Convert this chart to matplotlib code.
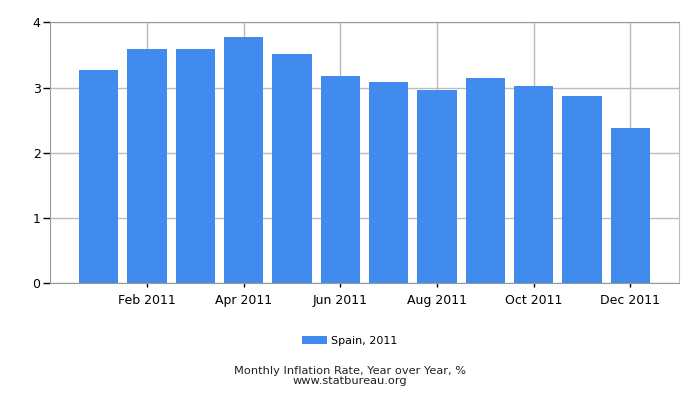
import matplotlib
matplotlib.use('Agg')
import numpy as np
from matplotlib import pyplot as plt
from matplotlib.patches import Patch

months = ['Jan 2011', 'Feb 2011', 'Mar 2011', 'Apr 2011', 'May 2011', 'Jun 2011',
          'Jul 2011', 'Aug 2011', 'Sep 2011', 'Oct 2011', 'Nov 2011', 'Dec 2011']
inflation = [3.27, 3.59, 3.59, 3.77, 3.51, 3.18, 3.09, 2.96, 3.15, 3.02, 2.87, 2.38]
series_name = 'Spain, 2011'
title = 'Monthly Inflation Rate, Year over Year, %'
source = 'www.statbureau.org'

bar_color = '#418bee'
grid_color = '#bcbcbc'

fig = plt.figure(figsize=(7, 4), dpi=100)
ax = fig.add_axes([0.0719, 0.2918, 0.8977, 0.6524])

x = np.arange(len(months))
ax.bar(x, inflation, width=0.81, color=bar_color, zorder=3)

ax.set_xlim(-1, 12)
ax.set_ylim(0, 4)
ax.set_yticks([0, 1, 2, 3, 4])
ax.set_xticks(x[1::2])
ax.set_xticklabels(months[1::2])
ax.tick_params(axis='both', labelsize=9, color='black', width=1)
ax.tick_params(axis='x', length=3, pad=5)
ax.tick_params(axis='y', length=5, pad=2)

ax.grid(True, color=grid_color, linewidth=1, zorder=0)
for side in ['top', 'right', 'bottom', 'left']:
    ax.spines[side].set_color(grid_color)
ax.spines['top'].set_color('#999999')
ax.spines['left'].set_color('#999999')
ax.spines['bottom'].set_color('#999999')

handle = Patch(facecolor=bar_color, label=series_name)
fig.legend(handles=[handle], loc='center', bbox_to_anchor=(0.5, 0.148), frameon=False,
           fontsize=8, handlelength=2.2, handleheight=0.7, handletextpad=0.4)

fig.text(0.5, 0.072, title, ha='center', va='center', fontsize=8.2, color='#222222')
fig.text(0.5, 0.047, source, ha='center', va='center', fontsize=8.2, color='#222222')

fig.savefig('out.png', dpi=100)
